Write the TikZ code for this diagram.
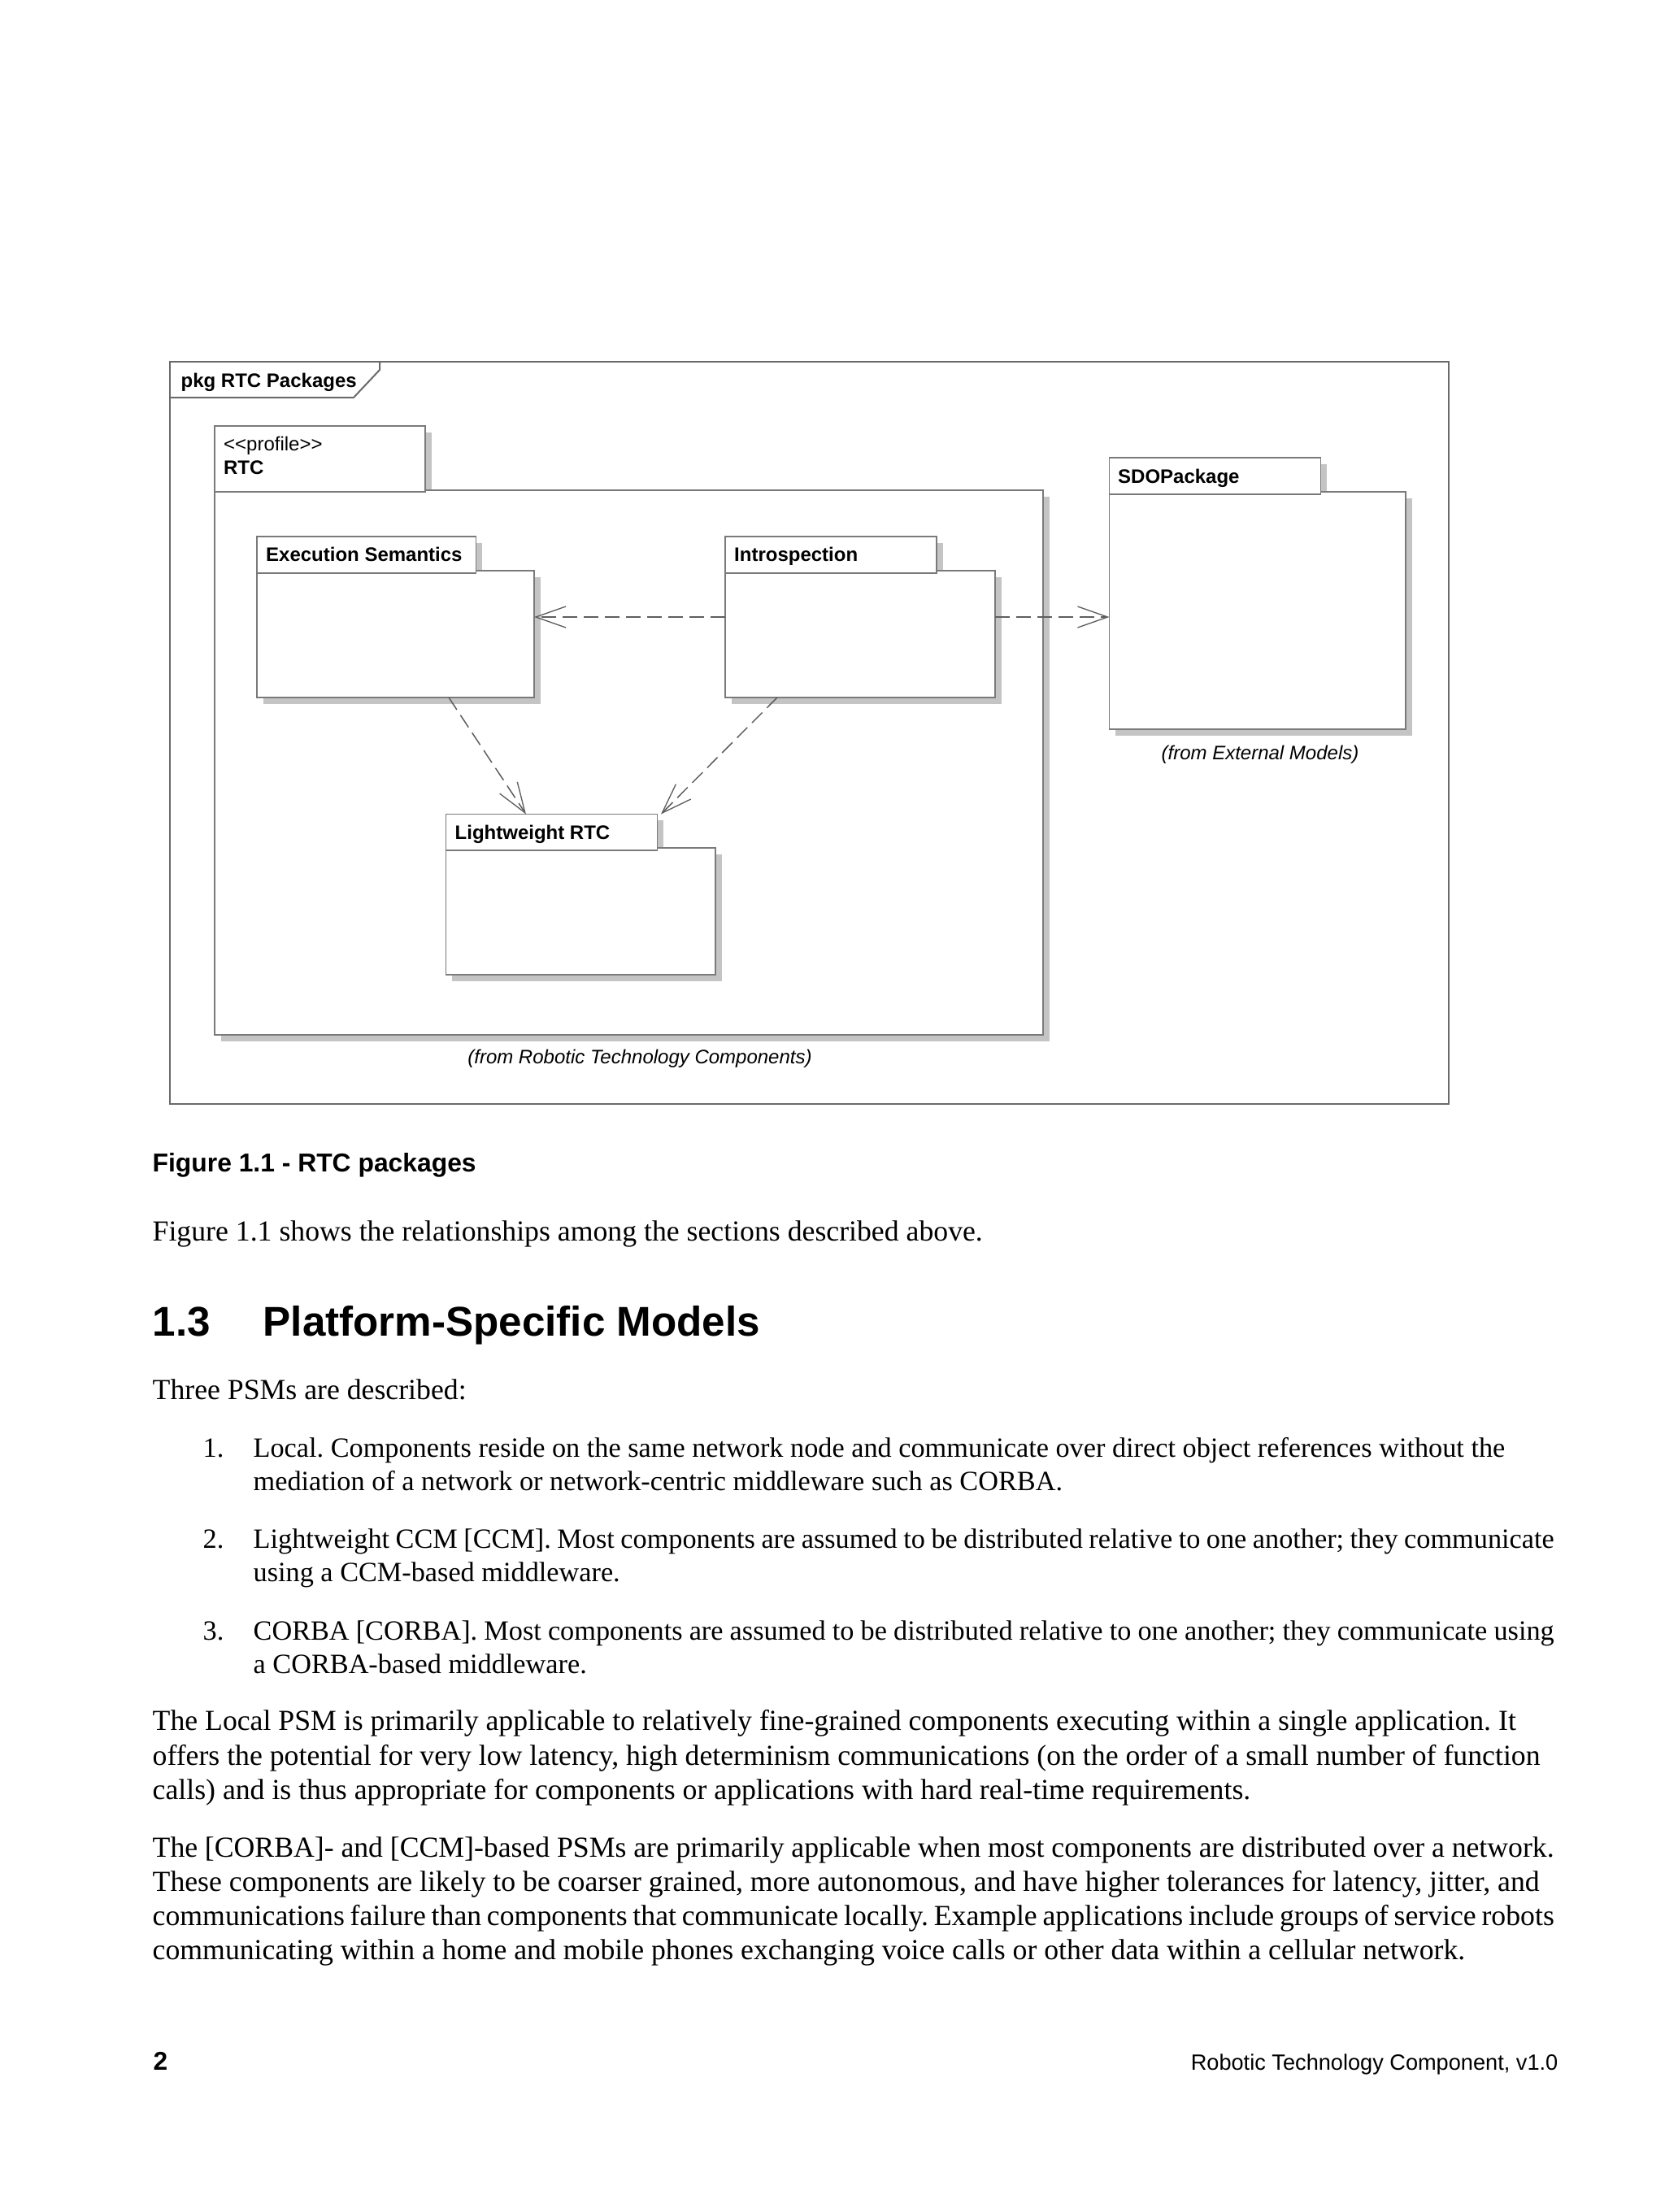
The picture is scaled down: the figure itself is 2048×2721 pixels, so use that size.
\documentclass[tikz,border=0pt]{standalone}
\usepackage{fontspec}
\setmainfont{Liberation Serif}
\setsansfont{Liberation Sans}
\usetikzlibrary{calc,fit,arrows.meta}
\definecolor{pkgline}{HTML}{7A7A7A}
\definecolor{frameline}{HTML}{6A6A6A}
\definecolor{shadowc}{HTML}{C4C4C4}
\definecolor{depline}{HTML}{5E5E5E}
\newlength\pxu
\setlength\pxu{0.3pt}
% a justified line of a given width (in pixels)
\newcommand\jline[2]{\makebox[#1\pxu][s]{#2}}
% #1 name, #2 left, #3 tab top, #4 tab right, #5 tab bottom, #6 body top, #7 body right, #8 body bottom
\newcommand\pkgdraw[8]{%
  \fill[shadowc] (#2+7.5,#6+7.5) rectangle (#7+7.5,#8+7.5);
  \fill[shadowc] (#2+7.5,#3+7.5) rectangle (#4+7.5,#5+7.5);
  \node[pkgrect, fit={(#2,#6) (#7,#8)}] (#1) {};
  \node[pkgrect, fit={(#2,#3) (#4,#5)}] (#1tab) {};
}
\begin{document}
\frenchspacing
\begin{tikzpicture}[x=0.3pt,y=-0.3pt,
  pkgrect/.style={draw=pkgline, line width=0.5pt, fill=white, inner sep=0pt, outer sep=0pt},
  frame/.style={draw=frameline, line width=0.6pt},
  dlbl/.style={font=\sffamily\fontsize{7.2}{8.6}\selectfont, inner sep=0pt, anchor=base west},
  dbold/.style={dlbl, font=\sffamily\bfseries\fontsize{7.2}{8.6}\selectfont},
  dital/.style={font=\sffamily\itshape\fontsize{7.2}{8.6}\selectfont, inner sep=0pt, anchor=base},
  bodytxt/.style={font=\fontsize{10.72}{12.8}\selectfont, inner sep=0pt, anchor=base west},
  itemtxt/.style={font=\fontsize{10.28}{12.3}\selectfont, inner sep=0pt, anchor=base west},
  headtxt/.style={font=\sffamily\bfseries\fontsize{15.35}{18}\selectfont, inner sep=0pt, anchor=base west},
  dep/.style={draw=depline, line width=0.45pt, dash pattern=on 5.4pt off 2.4pt,
    -{Straight Barb[length=11.1pt, width=7.8pt, line width=0.4pt]}},
]
\fill[white] (0,0) rectangle (2048,2721);
\useasboundingbox (0,0) rectangle (2048,2721);

% ---------- outer frame ----------
\node[frame, fit={(209,445) (1782,1358)}, inner sep=0pt, outer sep=0pt] (frm) {};
\draw[frame] (209,489) -- (435,489) -- (467,455) -- (467,445);
\node[dbold] (frmlbl) at (222,476) {pkg RTC Packages};

% ---------- packages ----------
\pkgdraw{rtc}{264}{524}{523}{605}{603}{1283}{1273}
\node[dlbl] (rtcst) at (274.5,554) {<\kern0pt<profile>\kern0pt>};
\node[dbold] (rtcname) at (274.5,583) {RTC};
\node[dital] (rtcfrom) at (787,1308) {(from Robotic Technology Components)};

\pkgdraw{exec}{316}{660}{585.5}{705}{702}{657}{858}
\node[dbold] (execname) at (326.5,690.5) {Execution Semantics};

\pkgdraw{intro}{892}{660}{1152}{705}{702}{1224}{858}
\node[dbold] (introname) at (902.5,690.5) {Introspection};

\pkgdraw{lw}{548.5}{1001.5}{808.5}{1046}{1043}{880}{1199}
\node[dbold] (lwname) at (559,1032) {Lightweight RTC};

\pkgdraw{sdo}{1364.5}{563}{1624.5}{608}{605}{1729}{897}
\node[dbold] (sdoname) at (1374.5,594) {SDOPackage};
\node[dital] (sdofrom) at (1550,934) {(from External Models)};

% ---------- dependencies ----------
\draw[dep] ($(intro.north west)+(0,57)$) -- ($(exec.north east)+(0,57)$);
\draw[dep] ($(intro.north east)+(0,57)$) -- ($(sdo.north west)+(0,154)$);
\draw[dep] ($(exec.south west)+(236,0)$) -- ($(lwtab.north west)+(98.5,0)$);
\draw[dep] ($(intro.south west)+(64,0)$) -- ($(lwtab.north east)+(4.5,0)$);

% ---------- page text ----------
\node[inner sep=0pt, anchor=base west, font=\sffamily\bfseries\fontsize{9.55}{11}\selectfont] (cap) at (187,1441) {Figure 1.1 - RTC packages};
\node[bodytxt] (t0) at (187,1526) {Figure 1.1 shows the relationships among the sections described above.};

\node[headtxt] (hnum) at (187,1643) {1.3};
\node[headtxt] (htxt) at (323,1643) {Platform-Specific Models};

\node[bodytxt] (t1) at (187,1721) {Three PSMs are described:};

\node[itemtxt] (n1) at (249,1792) {1.};
\node[itemtxt] (i1a) at (311,1792) {Local. Components reside on the same network node and communicate over direct object references without the};
\node[itemtxt] (i1b) at (311,1833) {mediation of a network or network-centric middleware such as CORBA.};

\node[itemtxt] (n2) at (249,1904) {2.};
\node[itemtxt] (i2a) at (311,1904) {\jline{1600}{Lightweight CCM [CCM]. Most components are assumed to be distributed relative to one another; they communicate}};
\node[itemtxt] (i2b) at (311,1945) {using a CCM-based middleware.};

\node[itemtxt] (n3) at (249,2017) {3.};
\node[itemtxt] (i3a) at (311,2017) {\jline{1600}{CORBA [CORBA]. Most components are assumed to be distributed relative to one another; they communicate using}};
\node[itemtxt] (i3b) at (311,2058) {a CORBA-based middleware.};

\node[bodytxt] (p1a) at (187,2128) {The Local PSM is primarily applicable to relatively fine-grained components executing within a single application. It};
\node[bodytxt] (p1b) at (187,2171) {offers the potential for very low latency, high determinism communications (on the order of a small number of function};
\node[bodytxt] (p1c) at (187,2213) {calls) and is thus appropriate for components or applications with hard real-time requirements.};

\node[bodytxt] (p2a) at (187,2284) {\jline{1724}{The [CORBA]- and [CCM]-based PSMs are primarily applicable when most components are distributed over a network.}};
\node[bodytxt] (p2b) at (187,2326) {These components are likely to be coarser grained, more autonomous, and have higher tolerances for latency, jitter, and};
\node[bodytxt] (p2c) at (187,2368) {\jline{1724}{communications failure than components that communicate locally. Example applications include groups of service robots}};
\node[bodytxt] (p2d) at (187,2410) {communicating within a home and mobile phones exchanging voice calls or other data within a cellular network.};

% ---------- footer ----------
\node[inner sep=0pt, anchor=base west, font=\sffamily\bfseries\fontsize{9.5}{11}\selectfont] (pg) at (188,2546) {2};
\node[inner sep=0pt, anchor=base east, font=\sffamily\fontsize{8.15}{10}\selectfont] (foot) at (1917,2546) {Robotic Technology Component, v1.0};
\end{tikzpicture}
\end{document}
